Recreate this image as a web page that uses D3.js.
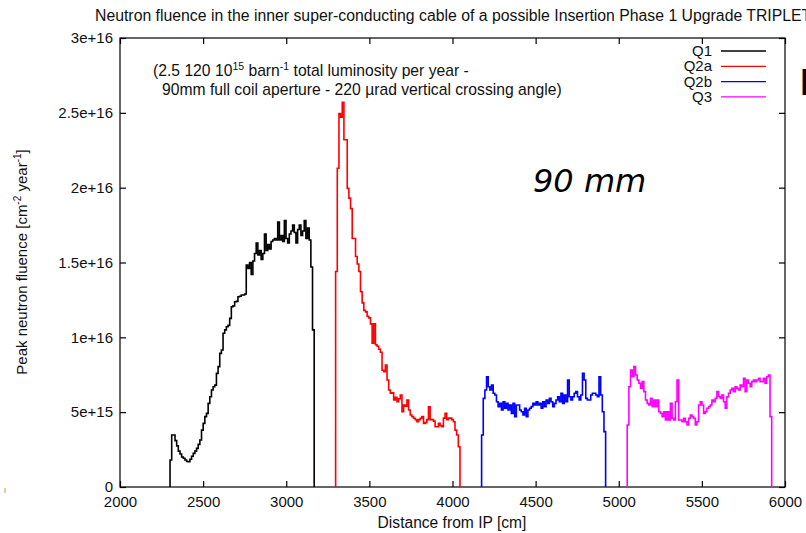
<!DOCTYPE html>
<html><head><meta charset="utf-8">
<script src="https://cdn.jsdelivr.net/npm/d3@7"></script>
<style>
html,body{margin:0;padding:0;background:#fff;}
svg text{font-family:"Liberation Sans",Arial,Helvetica,sans-serif;}
</style>
</head><body>
<script>
// ---- data (fluence values in units of 1e15 cm^-2 year^-1, positions in cm) ----
const xTicks = [2000,2500,3000,3500,4000,4500,5000,5500,6000];
const yTicks = [0,5e15,1e16,1.5e16,2e16,2.5e16,3e16];
const yTickLabels = ["0","5e+15","1e+16","1.5e+16","2e+16","2.5e+16","3e+16"];
const seriesNames = ["Q1","Q2a","Q2b","Q3"];
const seriesColors = ["#000000","#ff0000","#0000ff","#ff00ff"];
const q1Range = [2301,3168];
const q2aRange = [3297,4045];
const q2bRange = [4175,4921];
const q3Range = [5051,5920];
const q1Values = [1.8,3.47,3.47,3.1,2.75,2.4,2.2,2.0,1.92,1.8,1.7,1.69,1.85,2.05,2.25,2.4,2.58,2.85,3.14,3.8,
  4.25,4.7,4.92,5.59,6.03,6.48,6.7,6.81,7.59,8.04,8.93,9.15,10.27,10.5,10.71,10.8,11.27,12.04,12.1,12.38,
  12.4,12.71,12.75,12.83,12.83,12.9,14.83,14.6,15.0,14.2,15.1,15.6,16.3,15.5,15.8,15.2,15.6,16.9,15.8,16.2,
  15.9,16.4,16.5,16.6,16.5,17.7,16.5,16.8,16.4,17.8,16.6,16.3,16.9,17.1,17.5,17.0,16.3,17.2,17.5,16.8,
  17.1,17.8,16.6,17.3,16.5,14.7,10.5];
const q2aValues = [14.4,21.3,24.96,24.7,25.7,23.2,23.2,19.95,19.3,18.6,16.6,16.6,15.4,14.9,14.4,13.05,12.3,11.8,11.7,11.4,
  11.3,10.9,9.6,10.9,9.5,9.4,9.2,9.0,7.8,7.7,8.15,7.15,6.48,6.26,6.3,5.81,6.0,5.7,5.9,6.15,
  5.03,5.48,5.4,5.81,5.14,4.81,4.7,4.59,4.5,4.36,4.5,4.59,4.7,4.25,4.3,4.5,5.36,4.5,4.5,4.4,
  4.03,4.03,4.25,4.1,4.03,4.6,4.92,4.5,4.6,4.6,4.5,4.36,3.8,3.47,2.69];
const q2bValues = [3.47,5.92,6.48,7.37,6.70,6.48,6.81,6.26,6.15,5.70,5.37,5.59,5.14,5.70,5.26,5.59,5.14,5.48,4.92,5.59,
  4.70,5.48,5.48,5.14,5.03,4.81,5.26,4.70,5.14,5.26,5.37,5.59,5.48,5.70,5.48,5.59,5.26,5.70,5.37,5.81,
  5.59,5.92,5.70,5.37,5.59,5.81,6.03,5.70,6.26,5.59,6.15,5.70,7.15,6.03,5.81,6.03,6.26,6.37,6.03,5.81,
  6.15,7.59,7.15,5.92,5.81,5.81,6.15,6.26,6.26,6.15,6.03,7.37,6.15,5.03,3.70];
const q3Values = [4.14,6.70,7.82,7.37,8.04,7.48,7.15,6.93,6.59,7.04,6.37,5.81,5.59,5.48,5.92,5.37,5.81,5.37,5.81,5.03,
  4.92,4.70,5.03,4.48,5.03,4.48,5.59,4.59,4.48,5.70,7.15,4.48,4.48,4.36,4.59,4.36,4.14,4.59,4.81,4.70,
  4.59,4.14,4.36,5.48,5.70,5.48,4.92,5.03,5.26,5.37,5.48,5.81,5.70,5.92,6.37,6.03,5.92,6.15,5.70,5.26,
  6.03,6.26,6.48,6.59,6.37,6.70,6.59,6.48,6.81,6.70,7.26,6.37,7.15,6.93,6.70,7.04,7.15,7.04,7.15,7.26,
  7.04,7.04,7.26,6.93,7.37,7.48,4.70];
const valueUnit = 1e15;

// ---- layout ----
const W = 806, H = 533;
const M = {left:120, right:21, top:38, bottom:46};
const svg = d3.select("body").append("svg").attr("width",W).attr("height",H);

const x = d3.scaleLinear().domain([2000,6000]).range([M.left, W-M.right]);
const y = d3.scaleLinear().domain([0,3e16]).range([H-M.bottom, M.top]);

const axisFont = 15;
const gx = svg.append("g").attr("transform",`translate(0,${H-M.bottom})`)
  .call(d3.axisBottom(x).tickValues(xTicks).tickSizeInner(-6).tickSizeOuter(0).tickPadding(9).tickFormat(d3.format("d")));
const gxt = svg.append("g").attr("transform",`translate(0,${M.top})`)
  .call(d3.axisTop(x).tickValues(xTicks).tickSizeInner(-6).tickSizeOuter(0).tickFormat(""));
const gy = svg.append("g").attr("transform",`translate(${M.left},0)`)
  .call(d3.axisLeft(y).tickValues(yTicks).tickSizeInner(-6).tickSizeOuter(0).tickPadding(7)
    .tickFormat((d,i)=>yTickLabels[i]));
const gyr = svg.append("g").attr("transform",`translate(${W-M.right},0)`)
  .call(d3.axisRight(y).tickValues(yTicks).tickSizeInner(-6).tickSizeOuter(0).tickFormat(""));
[gx,gxt,gy,gyr].forEach(g=>{
  g.select(".domain").remove();
  g.selectAll("line").attr("stroke","#000").attr("stroke-width",1.2);
  g.selectAll("text").attr("font-size",axisFont).attr("fill","#111")
   .attr("font-family","'Liberation Sans',Arial,sans-serif");
});
svg.append("rect").attr("x",M.left).attr("y",M.top)
  .attr("width",W-M.right-M.left).attr("height",H-M.bottom-M.top)
  .attr("fill","none").attr("stroke","#000").attr("stroke-width",1.2);

// ---- series ----
function stepPoints(range, vals){
  const [s,e] = range, w = (e-s)/vals.length;
  const pts = [[s,0]];
  vals.forEach((v,i)=>pts.push([s+i*w, v*valueUnit]));
  pts.push([e, vals[vals.length-1]*valueUnit]);
  pts.push([e,0]);
  return pts;
}
const line = d3.line().x(d=>x(d[0])).y(d=>y(d[1])).curve(d3.curveStepAfter);
const allSeries = [[q1Range,q1Values],[q2aRange,q2aValues],[q2bRange,q2bValues],[q3Range,q3Values]];
allSeries.forEach(([r,v],i)=>{
  svg.append("path").attr("d",line(stepPoints(r,v))).attr("fill","none")
    .attr("stroke",seriesColors[i]).attr("stroke-width",1.6).attr("stroke-linejoin","miter");
});

// ---- legend ----
const legX = 712, legY0 = 51, legDy = 15.3;
seriesNames.forEach((n,i)=>{
  const yy = legY0 + i*legDy;
  svg.append("text").attr("x",legX).attr("y",yy+5).attr("text-anchor","end")
    .attr("font-size",15).attr("fill","#111").text(n);
  svg.append("line").attr("x1",721).attr("x2",766).attr("y1",yy).attr("y2",yy)
    .attr("stroke",seriesColors[i]).attr("stroke-width",1.3);
});

// ---- texts ----
svg.append("text").attr("x",95).attr("y",21).attr("font-size",15.8).attr("fill","#111")
  .text("Neutron fluence in the inner super-conducting cable of a possible Insertion Phase 1 Upgrade TRIPLET");

const annFont = 15.7;
const ann1 = svg.append("text").attr("x",153).attr("y",76).attr("font-size",annFont).attr("fill","#111");
ann1.append("tspan").text("(2.5 120 10");
ann1.append("tspan").attr("font-size",10.5).attr("dy",-6).text("15");
ann1.append("tspan").attr("dy",6).text(" barn");
ann1.append("tspan").attr("font-size",10.5).attr("dy",-6).text("-1");
ann1.append("tspan").attr("dy",6).text(" total luminosity per year -");
svg.append("text").attr("x",162).attr("y",95).attr("font-size",annFont).attr("fill","#111")
  .text("90mm full coil aperture - 220 \u00b5rad vertical crossing angle)");

svg.append("text").attr("x",452).attr("y",528).attr("text-anchor","middle").attr("font-size",15.6).attr("fill","#111")
  .text("Distance from IP [cm]");

const yl = svg.append("text").attr("transform","translate(26.5,262) rotate(-90)").attr("text-anchor","middle")
  .attr("font-size",15).attr("fill","#111");
yl.append("tspan").text("Peak neutron fluence [cm");
yl.append("tspan").attr("font-size",10).attr("dy",-6).text("-2");
yl.append("tspan").attr("dy",6).text(" year");
yl.append("tspan").attr("font-size",10).attr("dy",-6).text("-1");
yl.append("tspan").attr("dy",6).text("]");

svg.append("text").attr("x",533).attr("y",192).attr("font-size",32).attr("font-style","italic")
  .style("font-family","'DejaVu Sans',Verdana,sans-serif").attr("fill","#000").text("90 mm");

svg.append("text").attr("x",799).attr("y",95).attr("font-size",36)
  .style("font-family","'DejaVu Sans',Verdana,sans-serif").attr("fill","#000").text("P");

svg.append("line").attr("x1",5).attr("x2",5).attr("y1",488).attr("y2",493).attr("stroke","#c89a3a").attr("stroke-width",1);
</script>
</body></html>
